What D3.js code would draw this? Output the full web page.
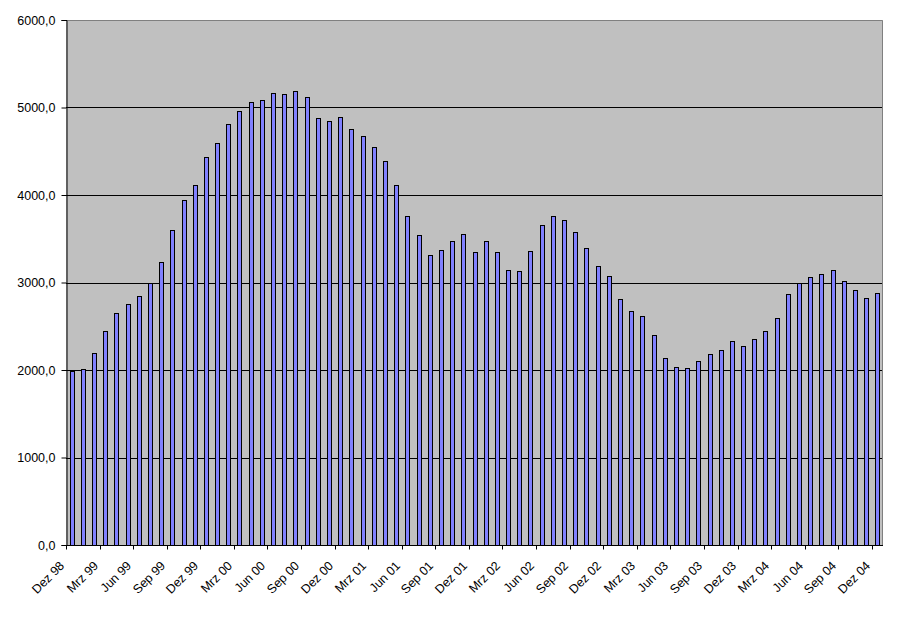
<!DOCTYPE html>
<html>
<head>
<meta charset="utf-8">
<script src="https://cdn.jsdelivr.net/npm/d3@7"></script>
<style>
  html, body { margin: 0; padding: 0; background: #ffffff; }
  svg { display: block; }
  text { font-family: Arial, "Liberation Sans", sans-serif; font-size: 12px; fill: #000; }
</style>
</head>
<body>
<svg id="chart" width="911" height="623"></svg>
<script>
// Monthly categories Dez 98 .. Dez 04
const months = ["Jan","Feb","Mrz","Apr","Mai","Jun","Jul","Aug","Sep","Okt","Nov","Dez"];
const categories = [];
categories.push("Dez 98");
for (let yr = 99; yr <= 104; yr++) {
  for (let m = 0; m < 12; m++) {
    categories.push(months[m] + " " + String(yr % 100).padStart(2, "0"));
  }
}

const values = [
  1990,
  2010, 2190, 2450, 2650, 2760, 2850, 3000, 3240, 3600, 3940, 4110, 4430,
  4590, 4810, 4960, 5060, 5090, 5170, 5150, 5185, 5120, 4875, 4850, 4890,
  4750, 4670, 4545, 4385, 4110, 3755, 3540, 3320, 3370, 3480, 3550, 3345,
  3480, 3345, 3140, 3130, 3355, 3655, 3755, 3710, 3575, 3400, 3185, 3070,
  2810, 2670, 2615, 2395, 2135, 2030, 2020, 2100, 2180, 2225, 2330, 2280,
  2350, 2440, 2590, 2865, 2990, 3060, 3095, 3140, 3015, 2910, 2820, 2875
];

const yTicks = [0, 1000, 2000, 3000, 4000, 5000, 6000];
const xTickLabels = ["Dez 98","Mrz 99","Jun 99","Sep 99","Dez 99","Mrz 00","Jun 00","Sep 00","Dez 00",
  "Mrz 01","Jun 01","Sep 01","Dez 01","Mrz 02","Jun 02","Sep 02","Dez 02","Mrz 03","Jun 03","Sep 03",
  "Dez 03","Mrz 04","Jun 04","Sep 04","Dez 04"];

const svg = d3.select("#chart");
const pLeft = 66, pTop = 20, pRight = 883, pBottom = 545;

const x = d3.scaleBand().domain(categories).range([pLeft, pRight]).padding(0);
const y = d3.scaleLinear().domain([0, 6000]).range([pBottom, pTop]);
const step = x.step();

// plot background
svg.append("rect")
  .attr("x", pLeft).attr("y", pTop)
  .attr("width", pRight - pLeft).attr("height", pBottom - pTop)
  .attr("fill", "#c0c0c0");

// plot border (top, right) gray
svg.append("path")
  .attr("d", `M${pLeft},${pTop + 0.5}H${pRight - 0.5}V${pBottom}`)
  .attr("fill", "none").attr("stroke", "#808080").attr("stroke-width", 1);

// gridlines
svg.append("g").selectAll("line")
  .data(yTicks.filter(t => t > 0 && t < 6000))
  .join("line")
  .attr("x1", pLeft).attr("x2", pRight - 1)
  .attr("y1", d => Math.round(y(d)) + 0.5).attr("y2", d => Math.round(y(d)) + 0.5)
  .attr("stroke", "#000").attr("stroke-width", 1);

// bars
const bw = 4;
svg.append("g").selectAll("rect")
  .data(values)
  .join("rect")
  .attr("x", (d, i) => Math.round(x(categories[i]) + (step - bw) / 2) + 0.5)
  .attr("y", d => Math.round(y(d)) + 0.5)
  .attr("width", bw)
  .attr("height", d => pBottom - Math.round(y(d)) - 0.5)
  .attr("fill", "#8080ff")
  .attr("stroke", "#000")
  .attr("stroke-width", 1)
  .attr("shape-rendering", "crispEdges");

// y axis
const yAxis = d3.axisLeft(y)
  .tickValues(yTicks)
  .tickSize(5)
  .tickPadding(6)
  .tickFormat(d => d3.format(".1f")(d).replace(".", ","));
const gy = svg.append("g").attr("transform", `translate(${pLeft + 0.5},0)`).call(yAxis);
gy.select(".domain").attr("stroke", "#000");
gy.selectAll(".tick line").attr("stroke", "#000");
gy.selectAll("text").style("font-size", "12.5px").style("font-family", "Arial, 'Liberation Sans', sans-serif");

// x axis
const tickCats = categories.filter((c, i) => i % 3 === 0);
const gx = svg.append("g").attr("transform", `translate(0,${pBottom + 0.5})`);
gx.append("line").attr("x1", pLeft).attr("x2", pRight).attr("y1", 0).attr("y2", 0).attr("stroke", "#000");
const ticks = gx.selectAll("g.tick").data(tickCats).join("g").attr("class", "tick")
  .attr("transform", c => `translate(${Math.round(x(c)) + 0.5},0)`);
ticks.append("line").attr("y1", 0).attr("y2", 4).attr("stroke", "#000");
ticks.append("text")
  .attr("text-anchor", "end")
  .style("font-size", "12.5px")
  .attr("transform", "translate(-1.5,21) rotate(-45)")
  .text((c, i) => xTickLabels[i]);
</script>
</body>
</html>
